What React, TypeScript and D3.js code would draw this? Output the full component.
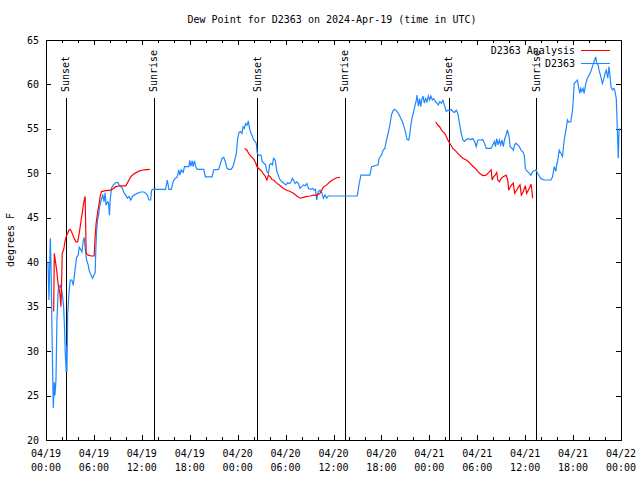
import React from "react";
import * as d3 from "d3";

// hours after 2024-04-19 00:00 UTC, dew point (F)
const stationHours = [0.25,0.37,0.54,0.62,0.75,0.91,1.04,1.12,1.25,1.37,1.53,1.66,1.78,1.96,2.08,2.21,2.33,2.41,2.53,2.60,2.62,2.71,2.87,3.03,3.24,3.41,3.53,3.66,3.83,4.03,4.16,4.37,4.49,4.65,4.78,4.90,5.08,5.28,5.40,5.62,5.83,6.03,6.15,6.24,6.33,6.45,6.58,6.70,6.86,6.99,7.11,7.27,7.40,7.52,7.70,7.82,7.95,8.02,8.20,8.45,8.73,9.02,9.15,9.36,9.57,9.77,9.98,10.19,10.39,10.61,10.82,11.02,11.44,11.85,12.27,12.48,12.69,12.89,13.10,13.23,13.35,14.97,15.19,15.39,15.69,15.93,16.22,16.43,16.63,16.76,16.93,17.18,17.34,17.88,18.01,18.13,18.31,18.43,18.59,18.75,18.93,19.75,19.96,20.80,21.00,21.62,21.84,22.05,22.25,22.46,22.67,22.87,23.17,23.42,23.58,23.83,24.00,24.17,24.33,24.54,24.67,24.83,24.99,25.17,25.33,25.49,25.67,25.83,25.99,26.17,26.33,26.45,26.62,26.92,27.08,27.33,27.49,27.66,27.86,27.99,28.16,28.36,28.49,28.70,28.82,28.91,29.16,29.32,29.57,29.82,30.07,30.23,30.48,30.70,30.86,30.98,31.20,31.41,31.61,31.82,32.03,32.23,32.44,32.66,32.86,33.15,33.40,33.57,33.73,33.90,34.07,34.31,34.53,34.73,34.94,35.15,35.35,38.97,39.22,39.43,40.55,40.77,41.59,41.71,42.01,42.21,42.43,42.64,42.84,43.05,43.26,43.46,43.67,43.96,44.21,44.42,44.63,44.83,45.05,45.21,45.42,45.54,45.71,45.88,46.04,46.17,46.38,46.46,46.63,46.79,46.92,47.04,47.20,47.38,47.54,47.70,47.88,48.04,48.20,48.38,48.54,48.79,48.95,49.13,49.29,49.50,49.70,49.88,50.12,50.32,50.54,50.75,50.95,51.16,51.37,51.57,51.78,51.99,52.20,52.41,52.62,52.82,53.24,53.44,53.66,53.87,54.07,54.49,54.69,54.90,55.12,55.74,55.94,56.15,56.28,56.44,56.61,56.77,56.94,57.11,57.27,57.44,57.61,57.77,57.94,58.02,58.11,58.36,58.52,58.68,58.86,59.06,59.27,59.48,59.68,59.89,60.02,60.11,60.31,60.52,60.73,60.93,61.14,61.35,61.55,61.77,61.98,62.39,63.23,63.43,63.64,63.85,63.93,64.05,64.26,64.47,64.67,64.89,65.10,65.30,65.42,65.72,65.92,66.01,66.13,66.35,66.55,66.67,66.84,66.97,67.09,67.26,67.38,67.59,67.79,68.01,68.22,68.42,68.63,68.84,68.97,69.13,69.25,69.47,69.67,69.88,70.00,70.16,70.34,70.50,70.63,70.75,70.91,71.12,71.25,71.41,71.54,71.66,71.75,71.87];
const stationValues = [40.0,35.75,42.7,40.0,32.4,23.6,26.5,25.0,26.75,33.5,36.9,37.2,37.4,36.9,36.1,35.0,32.4,29.8,27.65,30.7,27.65,34.1,36.5,38.0,38.0,37.4,38.3,39.35,40.5,40.8,41.7,41.4,41.15,42.3,42.8,41.7,40.25,39.7,39.1,38.6,38.2,38.6,38.8,41.4,43.4,44.75,45.3,46.2,46.8,47.2,47.6,46.8,47.8,46.4,46.8,46.7,45.3,46.8,48.35,48.7,48.95,48.95,48.7,48.5,48.3,47.8,47.55,47.2,47.4,47.0,47.4,47.55,47.75,47.9,47.9,47.75,47.55,47.0,47.0,48.1,48.2,48.2,49.25,48.2,48.2,49.1,49.45,49.6,50.4,49.8,50.4,50.1,50.75,50.75,51.45,50.8,51.4,50.75,51.4,50.75,50.45,50.45,49.6,49.6,50.4,50.45,51.1,51.7,51.8,51.3,50.55,50.45,50.45,50.75,51.3,52.25,53.9,54.6,54.7,54.5,55.25,55.05,55.6,55.4,55.9,55.05,54.5,54.2,53.75,53.6,53.4,52.25,52.05,52.05,51.3,51.1,50.95,50.2,50.0,50.95,51.1,50.95,51.7,51.5,50.75,50.2,49.6,49.25,49.05,48.85,48.7,48.95,48.85,49.05,49.45,49.25,48.85,49.05,48.85,48.3,48.5,48.7,48.6,48.85,48.3,48.2,48.3,48.1,48.2,47.0,47.9,48.1,47.85,47.2,47.55,47.2,47.45,47.45,48.85,49.8,49.8,50.75,50.95,51.7,52.05,52.6,52.8,53.75,54.5,55.4,56.6,57.05,57.2,56.95,56.6,56.2,55.8,55.25,54.5,53.8,53.75,54.3,55.6,56.4,56.95,57.5,58.25,58.8,57.55,58.4,57.5,58.2,58.7,57.9,58.4,58.05,58.7,58.25,58.7,58.25,58.4,58.05,57.9,57.7,58.05,57.9,58.2,57.7,56.95,57.1,57.05,57.2,56.95,56.85,57.1,56.75,55.6,54.5,53.75,53.6,53.8,53.9,53.8,53.9,53.6,53.0,53.75,53.75,53.8,53.4,52.8,52.8,53.2,53.6,53.0,53.9,53.2,53.75,53.2,53.75,53.0,53.9,54.3,54.9,54.3,53.9,53.0,52.8,52.6,53.2,53.4,53.2,53.0,52.6,52.45,52.05,50.55,50.4,50.2,50.0,49.8,50.2,50.3,50.4,50.0,49.7,49.4,49.25,49.25,49.6,50.75,50.2,50.95,51.3,52.6,52.25,51.9,53.75,54.9,56.0,55.8,55.8,57.1,58.05,60.1,60.3,60.5,59.75,59.0,59.55,59.2,59.55,59.0,60.1,60.7,61.05,61.45,62.0,62.55,63.1,62.35,62.2,61.6,60.9,60.1,60.7,61.25,61.6,60.7,62.0,60.9,59.75,59.4,59.55,59.2,58.4,55.05,51.7,54.7,55.05];

// analysis: null separates runs
const analysisHours = [0.96,1.04,1.12,1.21,1.34,1.46,1.58,1.71,1.78,1.87,1.96,2.03,2.21,2.37,2.53,2.71,2.87,3.03,3.21,3.37,3.53,3.74,3.96,4.16,4.37,4.53,4.70,4.83,4.90,5.03,5.28,5.70,6.03,6.15,6.28,6.45,6.65,6.78,6.95,7.49,8.11,8.32,8.73,9.36,9.98,10.19,10.39,10.61,10.94,11.23,11.64,12.27,13.01,
  null,
  24.87,25.17,25.37,25.67,25.92,26.20,26.42,26.62,26.83,27.04,27.24,27.45,27.66,27.86,28.08,28.29,28.49,28.91,29.32,29.74,30.16,30.57,30.98,31.41,31.82,32.23,32.66,33.07,33.48,33.90,34.31,34.53,34.73,35.15,35.56,35.97,36.40,36.81,
  null,
  48.79,49.08,49.29,49.50,49.70,49.91,50.12,50.32,50.54,50.75,50.95,51.37,51.78,52.20,52.62,53.03,53.44,53.87,54.28,54.69,55.12,55.32,55.53,55.74,55.86,56.03,56.24,56.44,56.57,56.77,56.99,57.19,57.61,57.82,57.94,58.11,58.31,58.52,58.68,58.93,59.15,59.36,59.52,59.77,60.02,60.18,60.39,60.61,60.73,60.86,60.93];
const analysisValues = [34.45,41.0,40.5,39.9,39.1,38.0,37.1,36.7,36.1,35.0,38.0,41.0,41.4,42.3,42.9,43.25,43.6,43.7,43.4,43.05,42.7,42.3,42.3,43.25,44.55,45.5,46.6,47.2,47.4,41.0,40.8,40.7,40.7,42.9,44.4,45.5,46.6,47.4,47.95,48.05,48.1,48.2,48.5,48.6,48.6,48.9,49.25,49.6,49.9,50.05,50.25,50.4,50.45,
  null,
  52.8,52.6,52.25,51.9,51.7,51.3,50.75,50.55,50.4,50.2,49.9,49.7,49.25,49.8,49.6,49.3,49.25,48.9,48.6,48.3,48.1,47.95,47.75,47.45,47.2,47.3,47.4,47.45,47.55,47.55,47.75,48.1,48.45,48.7,49.05,49.3,49.5,49.55,
  null,
  55.8,55.4,55.25,54.9,54.7,54.5,54.15,53.75,53.4,53.1,52.8,52.45,52.05,51.7,51.5,51.2,50.8,50.45,50.0,49.75,49.8,50.0,50.2,50.4,49.25,49.6,49.8,50.1,49.25,49.05,49.4,49.6,49.8,49.25,48.1,48.45,48.7,48.9,47.75,48.1,48.45,48.7,47.55,47.95,48.6,47.75,48.1,48.5,48.8,47.95,47.2];

const sunEventHours = [2.5, 13.48, 26.45, 37.43, 50.41, 61.39];
const sunEventLabels = ["Sunset", "Sunrise", "Sunset", "Sunrise", "Sunset", "Sunrise"];
const yTicks = [20, 25, 30, 35, 40, 45, 50, 55, 60, 65];
const titleText = "Dew Point for D2363 on 2024-Apr-19 (time in UTC)";
const yLabel = "degrees F";
const seriesNames = ["D2363 Analysis", "D2363"];
const seriesColors = ["#ff0000", "#1e88ff"];

const START = Date.UTC(2024, 3, 19, 0, 0);
const END = Date.UTC(2024, 3, 22, 0, 0);
const toDate = (h: number) => new Date(START + h * 3600 * 1000);

const W = 640, H = 480;
const L = 46, R = 621, T = 40, B = 440;
const FONT = "'DejaVu Sans Mono', 'Liberation Mono', monospace";

export default function App() {
  const x = d3.scaleUtc().domain([new Date(START), new Date(END)]).range([L, R]);
  const y = d3.scaleLinear().domain([20, 65]).range([B, T]);

  type P = { t: Date; v: number } | null;
  const station: P[] = stationHours.map((h, i) => ({ t: toDate(h), v: stationValues[i] }));
  const analysis: P[] = analysisHours.map((h, i) =>
    h === null || analysisValues[i] === null ? null : { t: toDate(h as number), v: analysisValues[i] as number }
  );

  const line = d3
    .line<P>()
    .defined((d) => d !== null)
    .x((d) => x((d as any).t))
    .y((d) => y((d as any).v));

  const majorTicks = d3.utcHour.every(6)!.range(new Date(START), new Date(END + 1));
  const minorTicks = d3.utcHour.every(2)!.range(new Date(START), new Date(END + 1));
  const fmtDate = d3.utcFormat("%m/%d");
  const fmtTime = d3.utcFormat("%H:%M");

  const px = (v: number) => Math.round(v) + 0.5;

  return (
    <svg
      width={W}
      height={H}
      style={{ position: "absolute", left: 0, top: 0, background: "#fff" }}
      fontFamily={FONT}
      fontSize={10}
    >
      <rect x={0} y={0} width={W} height={H} fill="#fff" />
      <text x={332} y={19} dy="0.35em" textAnchor="middle" fill="#000">
        {titleText}
      </text>

      {/* y ticks */}
      {yTicks.map((v) => (
        <g key={"y" + v} shapeRendering="crispEdges">
          <line x1={L} x2={L + 5} y1={px(y(v))} y2={px(y(v))} stroke="#000" />
          <line x1={R - 5} x2={R} y1={px(y(v))} y2={px(y(v))} stroke="#000" />
          <text x={39} y={y(v)} dy="0.35em" textAnchor="end" fill="#000">
            {v}
          </text>
        </g>
      ))}

      {/* x ticks */}
      {minorTicks.map((d, i) => (
        <g key={"m" + i} shapeRendering="crispEdges">
          <line x1={px(x(d))} x2={px(x(d))} y1={B} y2={B - 3} stroke="#000" />
          <line x1={px(x(d))} x2={px(x(d))} y1={T} y2={T + 3} stroke="#000" />
        </g>
      ))}
      {majorTicks.map((d, i) => (
        <g key={"M" + i}>
          <g shapeRendering="crispEdges">
            <line x1={px(x(d))} x2={px(x(d))} y1={B} y2={B - 5} stroke="#000" />
            <line x1={px(x(d))} x2={px(x(d))} y1={T} y2={T + 5} stroke="#000" />
          </g>
          <text x={x(d)} y={453} dy="0.35em" textAnchor="middle" fill="#000">
            {fmtDate(d)}
          </text>
          <text x={x(d)} y={467} dy="0.35em" textAnchor="middle" fill="#000">
            {fmtTime(d)}
          </text>
        </g>
      ))}

      <text
        transform={`translate(10,${(T + B) / 2}) rotate(-90)`}
        dy="0.35em"
        textAnchor="middle"
        fill="#000"
      >
        {yLabel}
      </text>

      {/* sunrise / sunset markers */}
      {sunEventHours.map((h, i) => {
        const xx = x(toDate(h));
        return (
          <g key={"s" + i}>
            <line x1={px(xx)} x2={px(xx)} y1={98} y2={B} stroke="#000" shapeRendering="crispEdges" />
            <text
              transform={`translate(${xx},92) rotate(-90)`}
              dy="0.35em"
              textAnchor="start"
              fill="#000"
            >
              {sunEventLabels[i]}
            </text>
          </g>
        );
      })}

      {/* data */}
      <path d={line(station) || ""} fill="none" stroke={seriesColors[1]} strokeWidth={1.2} />
      <path d={line(analysis) || ""} fill="none" stroke={seriesColors[0]} strokeWidth={1.2} />

      {/* legend */}
      {seriesNames.map((n, i) => (
        <g key={"l" + i}>
          <text x={575} y={50 + i * 13} dy="0.35em" textAnchor="end" fill="#000">
            {n}
          </text>
          <line
            x1={581}
            x2={610}
            y1={50.5 + i * 13}
            y2={50.5 + i * 13}
            stroke={seriesColors[i]}
            shapeRendering="crispEdges"
          />
        </g>
      ))}

      {/* frame */}
      <rect
        x={L + 0.5}
        y={T + 0.5}
        width={R - L}
        height={B - T}
        fill="none"
        stroke="#000"
        shapeRendering="crispEdges"
      />
    </svg>
  );
}
